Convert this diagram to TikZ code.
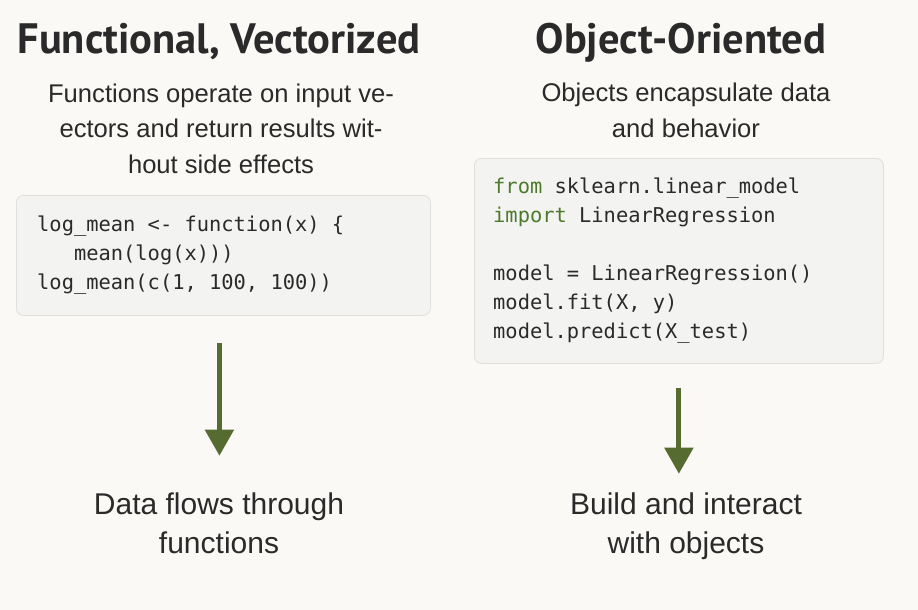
\documentclass[tikz,border=0pt]{standalone}
\usepackage{fontspec}
\usetikzlibrary{arrows.meta}
\setmainfont{Liberation Sans}
\newfontfamily\headfont{PT Sans}
\newfontfamily\codefont{DejaVu Sans Mono}
\definecolor{paper}{HTML}{FAF9F5}
\definecolor{ink}{HTML}{2A2A2A}
\definecolor{boxfill}{HTML}{F3F3F1}
\definecolor{boxline}{HTML}{E0DFDB}
\definecolor{olive}{HTML}{566B30}
\definecolor{kwgreen}{HTML}{4D7A2A}
\newcommand{\kw}[1]{\textcolor{kwgreen}{#1}}

\begin{document}
\begin{tikzpicture}[x=1pt,y=-1pt,text=ink,
  headline/.style={font=\headfont\bfseries\fontsize{42.5}{45}\selectfont},
  subline/.style={align=center,font=\fontsize{25.6}{35.5}\selectfont},
  resline/.style={align=center,font=\fontsize{30}{39}\selectfont},
  codebox/.style={draw=boxline,fill=boxfill,line width=0.8pt,rounded corners=7pt},
  code/.style={align=left,inner sep=0pt,font=\codefont\fontsize{20.4}{29}\selectfont},
  flow/.style={draw=olive,line width=5pt,-{Triangle[width=28pt,length=26pt]}}]
 \fill[paper] (0,0) rectangle (918,610);
 \useasboundingbox (0,0) rectangle (918,610);
 \node[headline,anchor=base] (fhead) at (219,53) {Functional, Vectorized};
 \node[headline,anchor=base] (ohead) at (681,53) {Object-Oriented};
 \node[subline,anchor=base] (fsub) at (221,173)
  {Functions operate on input ve-\\ectors and return results wit-\\hout side effects};
 \node[subline,anchor=base] (osub) at (686,137) {Objects encapsulate data\\and behavior};
 \node[codebox,anchor=north west,minimum width=414,minimum height=120] (fbox) at (16,195) {};
 \node[codebox,anchor=north west,minimum width=409,minimum height=205] (obox) at (474,158) {};
 \node[code,anchor=base west] (fcode) at (37,289)
  {log\_mean <- function(x) \{\\\ \ \ mean(log(x)))\\log\_mean(c(1, 100, 100))};
 \node[code,anchor=base west] (ocode) at (493,338)
  {\kw{from} sklearn.linear\_model\\\kw{import} LinearRegression\\[29pt]model = LinearRegression()\\model.fit(X, y)\\model.predict(X\_test)};
 \node[resline,anchor=base] (fres) at (219,553) {Data flows through\\functions};
 \node[resline,anchor=base] (ores) at (686,553) {Build and interact\\with objects};
 \draw[flow,shorten <=27pt,shorten >=33pt] ([xshift=-4pt]fbox.south) -- ([xshift=-4pt]fbox.south |- fres.north);
 \draw[flow,shorten <=24pt,shorten >=15pt] (obox.south) -- (obox.south |- ores.north);
\end{tikzpicture}
\end{document}
